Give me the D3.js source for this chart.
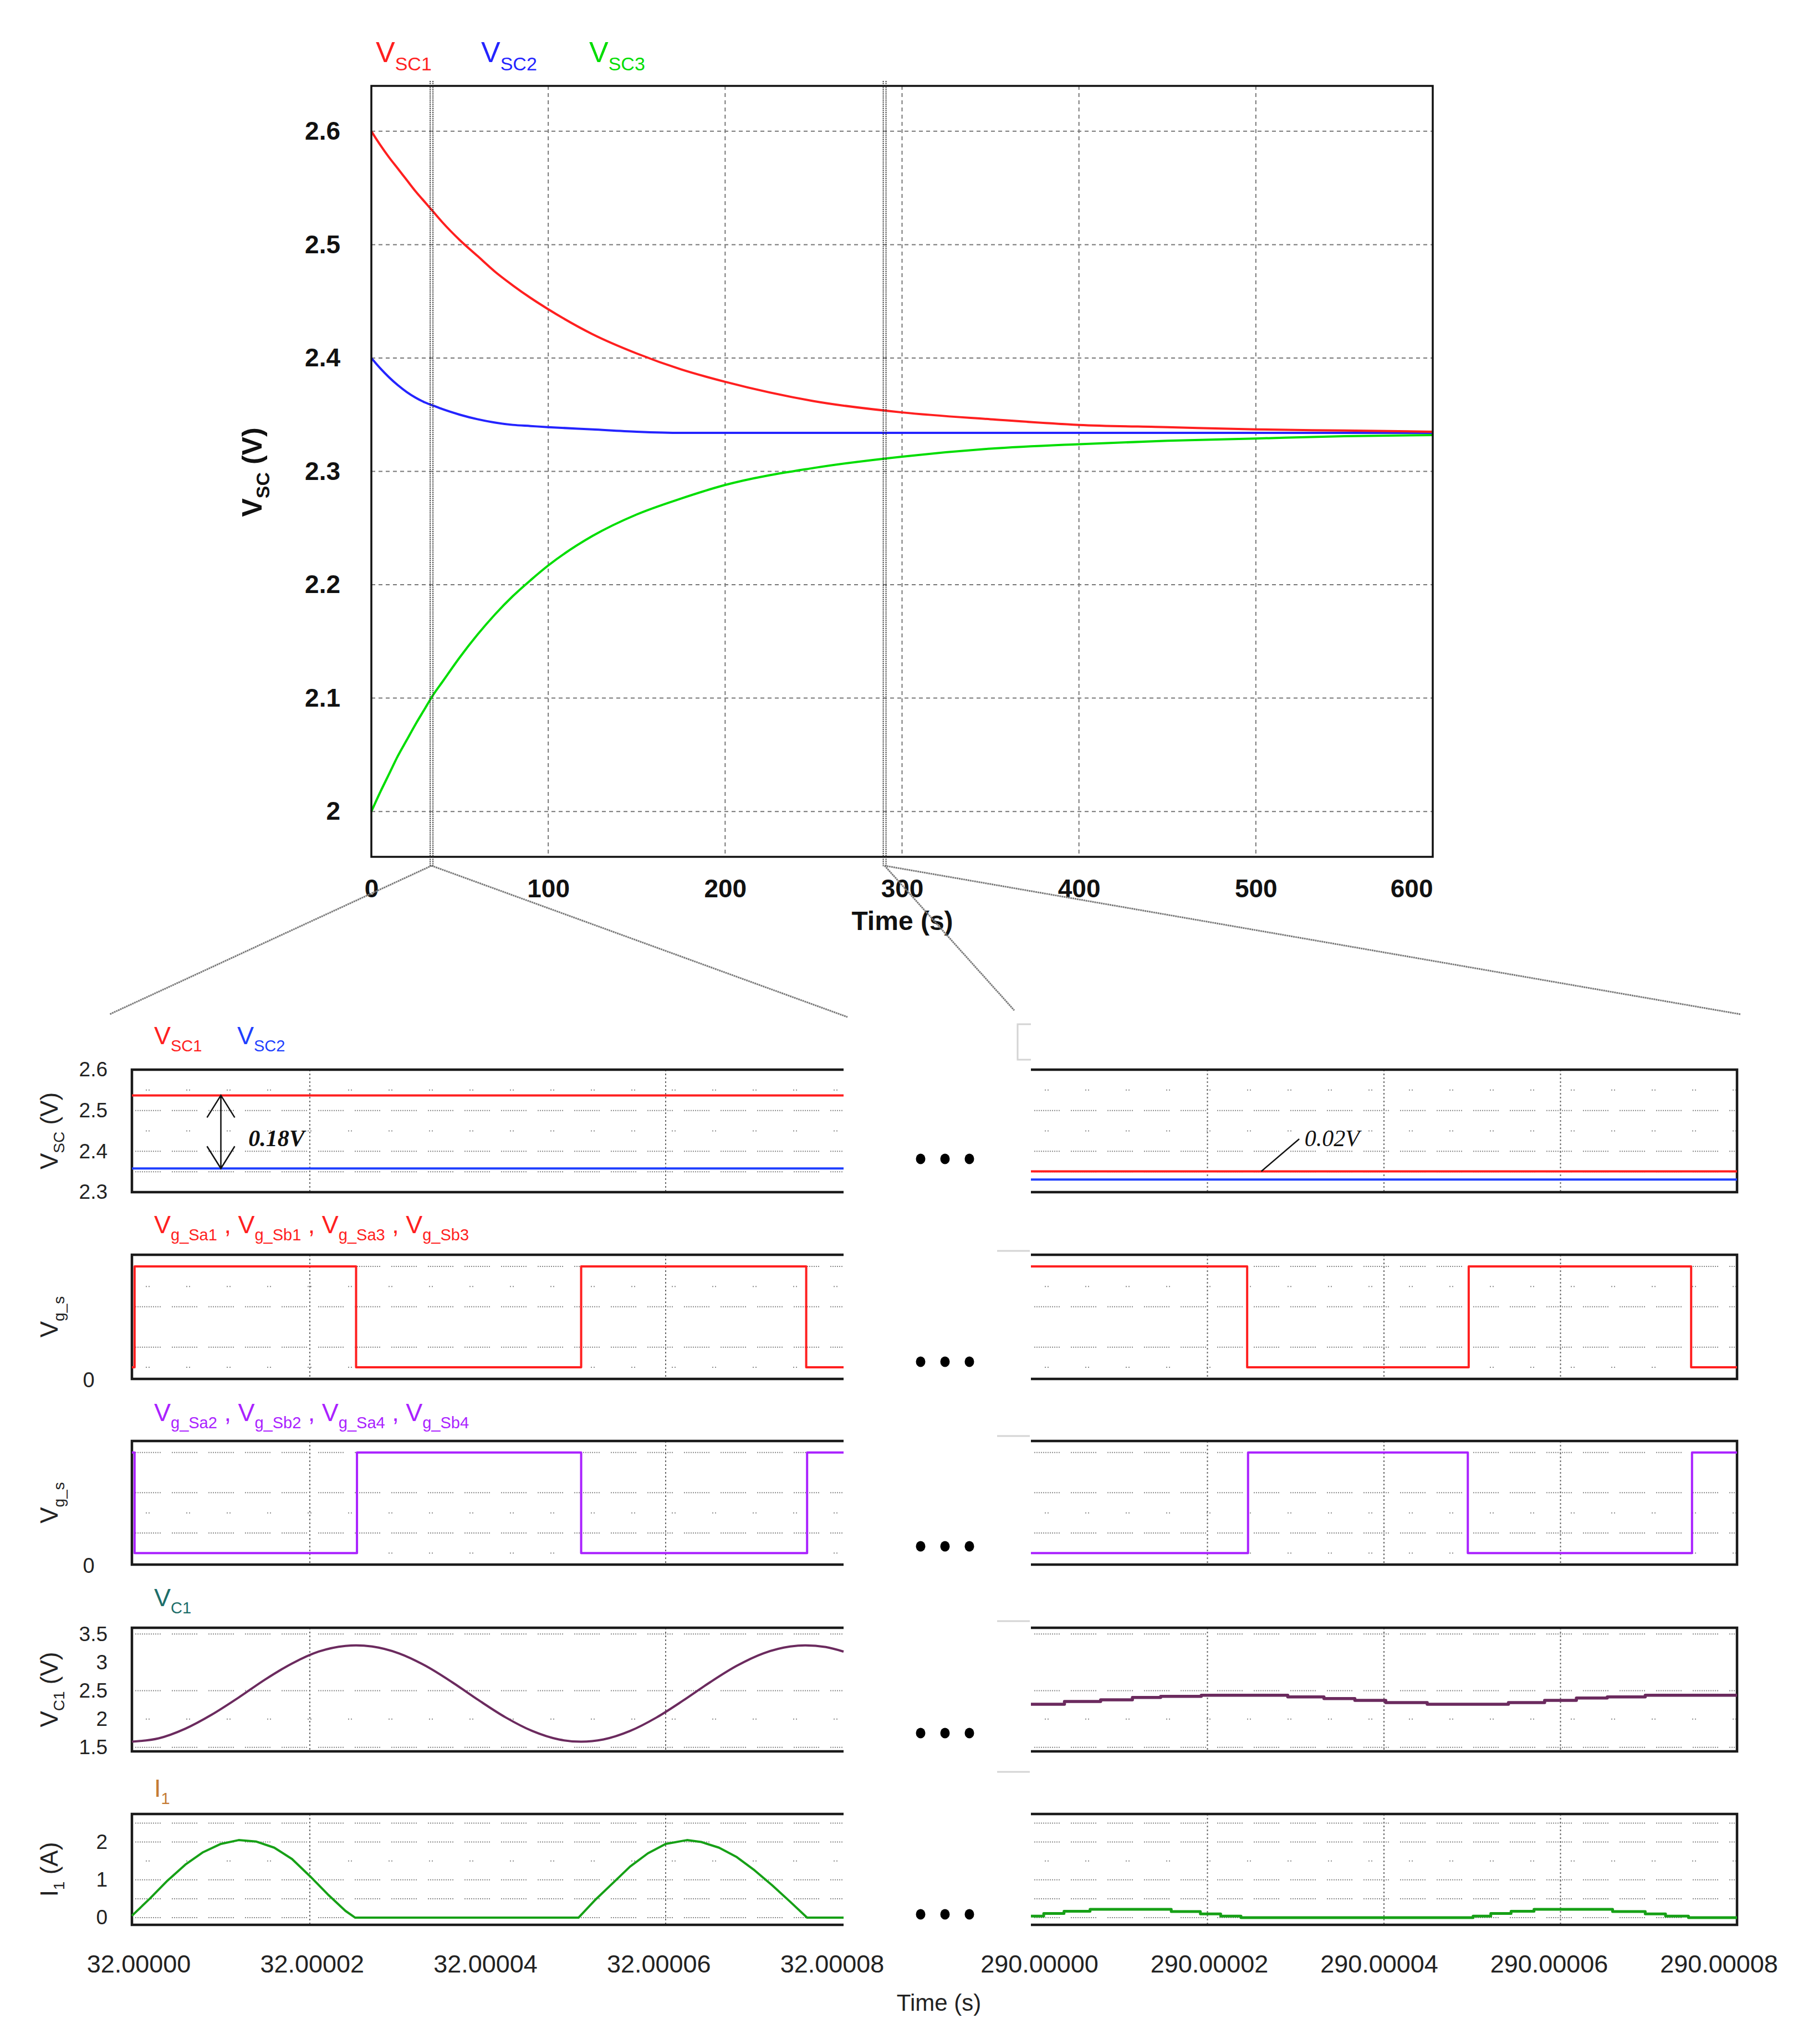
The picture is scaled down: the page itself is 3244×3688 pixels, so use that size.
<!DOCTYPE html>
<html>
<head>
<meta charset="utf-8">
<script src="https://cdn.jsdelivr.net/npm/d3@7"></script>
<style>
  body { margin: 0; background: #fff; }
  text { font-family: "Liberation Sans", Arial, sans-serif; }
</style>
</head>
<body>
<div id="chart"></div>
<script>
// ---- overview: supercapacitor voltages over 600 s
var overviewTime = [0, 5, 10, 15, 20, 25, 30, 35, 40, 50, 60, 70, 80, 90, 100, 125, 150, 175, 200, 250, 300, 350, 400, 450, 500, 550, 600];
var vsc1 = [2.600, 2.588, 2.577, 2.567, 2.557, 2.547, 2.538, 2.529, 2.520, 2.504, 2.490, 2.476, 2.464, 2.453, 2.443, 2.421, 2.404, 2.390, 2.379, 2.362, 2.352, 2.346, 2.341, 2.339, 2.337, 2.336, 2.335];
var vsc2 = [2.400, 2.391, 2.383, 2.376, 2.370, 2.365, 2.361, 2.358, 2.355, 2.350, 2.346, 2.343, 2.341, 2.340, 2.339, 2.337, 2.335, 2.334, 2.334, 2.334, 2.334, 2.334, 2.334, 2.334, 2.334, 2.334, 2.334];
var vsc3 = [2.000, 2.017, 2.033, 2.049, 2.063, 2.077, 2.090, 2.103, 2.114, 2.136, 2.156, 2.174, 2.190, 2.204, 2.217, 2.243, 2.262, 2.276, 2.288, 2.303, 2.313, 2.320, 2.324, 2.327, 2.329, 2.331, 2.332];
var overviewNames = [["V", "SC1"], ["V", "SC2"], ["V", "SC3"]];
var overviewTicksX = [0, 100, 200, 300, 400, 500, 600];
var overviewTicksY = [2, 2.1, 2.2, 2.3, 2.4, 2.5, 2.6];

// ---- zoomed windows (times in microseconds after the window start)
var zoomStarts = [32, 290];
var zoomTicks = [0, 20, 40, 60, 80];
var zoomTickLabels = [
  ["32.00000", "32.00002", "32.00004", "32.00006", "32.00008"],
  ["290.00000", "290.00002", "290.00004", "290.00006", "290.00008"]
];
var vscLevels = [[2.537, 2.358], [2.351, 2.331]];
var gateATimes = [[0, 0.3, 25.2, 50.5, 75.8], [0, 24.5, 49.6, 74.8]];
var gateALevels = [[0, 1, 0, 1, 0], [1, 0, 1, 0]];
var gateBTimes = [[0, 0.3, 25.3, 50.5, 75.9], [0, 24.6, 49.5, 74.9]];
var gateBLevels = [[1, 0, 1, 0, 1], [0, 1, 0, 1]];
var vc1Times = [
  [0, 3, 6, 9, 12, 15, 18, 21, 24, 25.2, 27, 30, 33, 36, 39, 42, 45, 48, 50.5, 53, 56, 59, 62, 65, 68, 71, 74, 75.7, 78, 80],
  [0, 3.8, 7.9, 11.5, 14.7, 19.3, 29.1, 33.2, 36.7, 40.2, 44.9, 54.1, 58.2, 61.8, 65.3, 69.6, 80]
];
var vc1Values = [
  [1.60, 1.66, 1.83, 2.08, 2.38, 2.70, 2.98, 3.19, 3.29, 3.30, 3.28, 3.16, 2.94, 2.65, 2.33, 2.03, 1.79, 1.64, 1.60, 1.64, 1.79, 2.03, 2.33, 2.65, 2.94, 3.16, 3.28, 3.30, 3.27, 3.19],
  [2.26, 2.31, 2.34, 2.38, 2.40, 2.42, 2.39, 2.36, 2.33, 2.29, 2.26, 2.29, 2.33, 2.37, 2.39, 2.42, 2.42]
];
var i1Times = [
  [0, 2, 4, 6, 8, 10, 12, 14, 16, 18, 20, 22, 24, 25.1, 50.2, 52, 54, 56, 58, 60, 62.4, 64, 66, 68, 70, 72, 74, 75.9, 80],
  [0, 1.45, 3.75, 6.7, 15.9, 19.2, 21.5, 23.8, 50.1, 52.1, 54.4, 57.0, 65.9, 69.6, 71.9, 74.5, 80]
];
var i1Values = [
  [0.05, 0.5, 0.98, 1.4, 1.73, 1.95, 2.05, 2.01, 1.85, 1.55, 1.1, 0.62, 0.18, 0, 0, 0.45, 0.9, 1.35, 1.7, 1.95, 2.05, 2.0, 1.85, 1.6, 1.25, 0.85, 0.42, 0, 0],
  [0.04, 0.11, 0.17, 0.22, 0.16, 0.10, 0.04, 0, 0.04, 0.11, 0.17, 0.22, 0.16, 0.10, 0.04, 0, 0]
];
var vscTicks = [2.3, 2.4, 2.5, 2.6];
var vc1Ticks = [1.5, 2, 2.5, 3, 3.5];
var i1Ticks = [0, 1, 2];

var width = 3244, height = 3688;
var svg = d3.select("#chart").append("svg").attr("width", width).attr("height", height);

function richText(parent, xPos, yPos, parts, size, subSize, color, weight) {
  var t = parent.append("text").attr("x", xPos).attr("y", yPos).attr("fill", color)
    .style("font-size", size + "px").style("font-weight", weight || "normal");
  var shift = 0;
  parts.forEach(function(p) {
    var main = typeof p === "string" ? p : p[0];
    t.append("tspan").attr("dy", -shift).text(main);
    shift = 0;
    if (typeof p !== "string") {
      shift = Math.round(size * 0.28);
      t.append("tspan").attr("dy", shift).style("font-size", subSize + "px").text(p[1]);
    }
  });
  return t;
}

// ================= overview chart =================
var ov = {left: 670, right: 2585, top: 155, bottom: 1546};
var x = d3.scaleLinear().domain([0, 600]).range([ov.left, ov.right]);
var y = d3.scaleLinear().domain([1.96, 2.64]).range([ov.bottom, ov.top]);

var grid = svg.append("g").attr("stroke", "#777").attr("stroke-width", 2).attr("stroke-dasharray", "7,6");
grid.selectAll(".gv").data(overviewTicksX.slice(1, -1)).enter().append("line").attr("class", "gv")
  .attr("x1", function(d) { return x(d); }).attr("x2", function(d) { return x(d); })
  .attr("y1", ov.top).attr("y2", ov.bottom);
grid.selectAll(".gh").data(overviewTicksY).enter().append("line").attr("class", "gh")
  .attr("x1", ov.left).attr("x2", ov.right)
  .attr("y1", function(d) { return y(d); }).attr("y2", function(d) { return y(d); });

var ovLine = d3.line()
  .x(function(d, i) { return x(overviewTime[i]); })
  .y(function(d) { return y(d); })
  .curve(d3.curveMonotoneX);
var ovColors = ["#ff1f1f", "#2424ff", "#00dd00"];
[[vsc2, 1], [vsc3, 2], [vsc1, 0]].forEach(function(s) {
  svg.append("path").attr("d", ovLine(s[0])).attr("fill", "none")
    .attr("stroke", ovColors[s[1]]).attr("stroke-width", 4);
});

svg.append("rect").attr("x", ov.left).attr("y", ov.top)
  .attr("width", ov.right - ov.left).attr("height", ov.bottom - ov.top)
  .attr("fill", "none").attr("stroke", "#111").attr("stroke-width", 3.5);

svg.append("g").attr("transform", "translate(" + ov.left + ",0)")
  .call(d3.axisLeft(y).tickValues(overviewTicksY).tickSize(0).tickPadding(56).tickFormat(function(d) { return d; }))
  .call(function(g) { g.select(".domain").remove(); })
  .selectAll("text").style("font-size", "46px").style("font-weight", "bold").attr("fill", "#111");

var xAxisG = svg.append("g").attr("transform", "translate(0," + ov.bottom + ")")
  .call(d3.axisBottom(x).tickValues(overviewTicksX).tickSize(0).tickPadding(40))
  .call(function(g) { g.select(".domain").remove(); });
xAxisG.selectAll("text").style("font-size", "46px").style("font-weight", "bold").attr("fill", "#111");
xAxisG.selectAll(".tick:last-of-type text").attr("text-anchor", "end");

richText(svg, 1628, 1678, ["Time (s)"], 48, 48, "#111", "bold").attr("text-anchor", "middle");
richText(svg, 472, 852, [["V", "SC"], " (V)"], 50, 34, "#111", "bold")
  .attr("text-anchor", "middle").attr("transform", "rotate(-90,472,852)");

[678, 868, 1063].forEach(function(lx, i) {
  richText(svg, lx, 112, [overviewNames[i]], 52, 34, ovColors[i]);
});

// ================= zoomed panels =================
var xs = [
  d3.scaleLinear().domain([0, 80]).range([238, 1522]),
  d3.scaleLinear().domain([0, 80]).range([1860, 3134])
];
var vGrid = [[20, 60], [20, 40, 60]];
var rows = [
  {top: 1930, bottom: 2151, domain: [2.3, 2.6], dense: [2.35, 2.4, 2.5], sparse: [2.45, 2.55], dotsY: 2091, stubY: null},
  {top: 2264, bottom: 2488, domain: [-0.115, 1.115], dense: [0.2, 0.6, 1.0], sparse: [0, 0.8], dotsY: 2457, stubY: 2257},
  {top: 2600, bottom: 2823, domain: [-0.115, 1.115], dense: [0.2, 0.6, 1.0], sparse: [0, 0.4], dotsY: 2790, stubY: 2591},
  {top: 2937, bottom: 3160, domain: [1.43, 3.61], dense: [1.5, 2.5, 3.5], sparse: [2.0], dotsY: 3127, stubY: 2925},
  {top: 3273, bottom: 3473, domain: [-0.19, 2.74], dense: [0, 0.5, 1, 2, 2.5], sparse: [1.5], dotsY: 3454, stubY: 3197}
];
rows.forEach(function(r) { r.y = d3.scaleLinear().domain(r.domain).range([r.bottom, r.top]); });

var denseDash = d3.range(11).map(function() { return "2,2"; }).join(",") + ",2,20";
var sparseDash = "2,3,2,66";

rows.forEach(function(r) {
  xs.forEach(function(sx, s) {
    var g = svg.append("g");
    var x0 = sx.range()[0], x1 = sx.range()[1];
    g.selectAll(".hd").data(r.dense).enter().append("line").attr("class", "hd")
      .attr("x1", x0 + 6).attr("x2", x1)
      .attr("y1", function(d) { return r.y(d); }).attr("y2", function(d) { return r.y(d); })
      .attr("stroke", "#8c8c8c").attr("stroke-width", 2).attr("stroke-dasharray", denseDash);
    g.selectAll(".hs").data(r.sparse).enter().append("line").attr("class", "hs")
      .attr("x1", x0 + 25).attr("x2", x1)
      .attr("y1", function(d) { return r.y(d); }).attr("y2", function(d) { return r.y(d); })
      .attr("stroke", "#8c8c8c").attr("stroke-width", 2).attr("stroke-dasharray", sparseDash);
    g.selectAll(".vg").data(vGrid[s]).enter().append("line").attr("class", "vg")
      .attr("x1", function(d) { return sx(d); }).attr("x2", function(d) { return sx(d); })
      .attr("y1", r.top).attr("y2", r.bottom)
      .attr("stroke", "#666").attr("stroke-width", 2).attr("stroke-dasharray", "3,4");
    var fr = s === 0
      ? "M" + x1 + "," + r.top + "H" + x0 + "V" + r.bottom + "H" + x1
      : "M" + x0 + "," + r.top + "H" + x1 + "V" + r.bottom + "H" + x0;
    g.append("path").attr("d", fr).attr("fill", "none").attr("stroke", "#1a1a1a").attr("stroke-width", 4.5);
  });
  // ellipsis between windows
  svg.selectAll(null).data([1661, 1705, 1749]).enter().append("ellipse")
    .attr("cx", function(d) { return d; }).attr("cy", r.dotsY).attr("rx", 8.5).attr("ry", 9.5).attr("fill", "#000");
  if (r.stubY !== null) {
    svg.append("line").attr("x1", 1799).attr("x2", 1858).attr("y1", r.stubY).attr("y2", r.stubY)
      .attr("stroke", "#d4d4d4").attr("stroke-width", 3);
  }
});
svg.append("path").attr("d", "M1860,1848H1836V1912H1860").attr("fill", "none")
  .attr("stroke", "#d4d4d4").attr("stroke-width", 3);

function drawSeries(row, s, times, values, color, curve, w) {
  var pts = times.map(function(t, i) { return [t, values[i]]; });
  if (pts[pts.length - 1][0] < 80) pts.push([80, pts[pts.length - 1][1]]);
  var ln = d3.line()
    .x(function(d) { return xs[s](d[0]); })
    .y(function(d) { return rows[row].y(d[1]); })
    .curve(curve);
  svg.append("path").attr("d", ln(pts)).attr("fill", "none")
    .attr("stroke", color).attr("stroke-width", w).attr("stroke-linejoin", "round");
}

var cRed = "#ff2020", cBlue = "#1f3fff", cPurple = "#aa22ff", cVc = "#6b2a5e", cI = "#16a016";
[0, 1].forEach(function(s) {
  drawSeries(0, s, [0], [vscLevels[s][0]], cRed, d3.curveLinear, 4);
  drawSeries(0, s, [0], [vscLevels[s][1]], cBlue, d3.curveLinear, 4);
  drawSeries(1, s, gateATimes[s], gateALevels[s], cRed, d3.curveStepAfter, 4);
  drawSeries(2, s, gateBTimes[s], gateBLevels[s], cPurple, d3.curveStepAfter, 4);
  drawSeries(3, s, vc1Times[s], vc1Values[s], cVc, s === 0 ? d3.curveMonotoneX : d3.curveStepAfter, s === 0 ? 4 : 5.5);
  drawSeries(4, s, i1Times[s], i1Values[s], cI, s === 0 ? d3.curveLinear : d3.curveStepAfter, s === 0 ? 4 : 5);
});

// left value axes
function leftAxis(row, ticks) {
  svg.append("g").attr("transform", "translate(" + xs[0].range()[0] + ",0)")
    .call(d3.axisLeft(rows[row].y).tickValues(ticks).tickSize(0).tickPadding(44).tickFormat(function(d) { return d; }))
    .call(function(g) { g.select(".domain").remove(); })
    .selectAll("text").style("font-size", "37px").attr("fill", "#222");
}
leftAxis(0, vscTicks);
leftAxis(3, vc1Ticks);
leftAxis(4, i1Ticks);
[1, 2].forEach(function(ri) {
  svg.append("text").attr("x", 160).attr("y", rows[ri].bottom + 15).attr("text-anchor", "middle")
    .style("font-size", "38px").attr("fill", "#222").text("0");
});

// time axes (labels sit slightly inside the window ends)
var labelShift = [[12, -21], [15, -33]];
[0, 1].forEach(function(s) {
  svg.append("g").attr("transform", "translate(0," + rows[4].bottom + ")")
    .call(d3.axisBottom(xs[s]).tickValues(zoomTicks).tickSize(0).tickPadding(54)
      .tickFormat(function(d, i) { return zoomTickLabels[s][i]; }))
    .call(function(g) { g.select(".domain").remove(); })
    .selectAll("text").style("font-size", "45px").attr("fill", "#222")
    .attr("dx", function(d, i) { return labelShift[s][0] + (labelShift[s][1] - labelShift[s][0]) * i / 4; });
});
richText(svg, 1694, 3628, ["Time (s)"], 42, 42, "#222").attr("text-anchor", "middle");

// rotated value labels
var yLabels = [
  [0, [["V", "SC"], " (V)"]],
  [1, [["V", "g_s"]]],
  [2, [["V", "g_s"]]],
  [3, [["V", "C1"], " (V)"]],
  [4, [["I", "1"], " (A)"]]
];
yLabels.forEach(function(l) {
  var r = rows[l[0]], cy = (r.top + r.bottom) / 2;
  richText(svg, 104, cy, l[1], 44, 28, "#222")
    .attr("text-anchor", "middle").attr("transform", "rotate(-90,104," + cy + ")");
});

// panel legends
richText(svg, 278, 1884, [["V", "SC1"]], 45, 29, cRed);
richText(svg, 428, 1884, [["V", "SC2"]], 45, 29, cBlue);
richText(svg, 278, 2225, [["V", "g_Sa1"], " , ", ["V", "g_Sb1"], " , ", ["V", "g_Sa3"], " , ", ["V", "g_Sb3"]], 45, 29, cRed);
richText(svg, 278, 2564, [["V", "g_Sa2"], " , ", ["V", "g_Sb2"], " , ", ["V", "g_Sa4"], " , ", ["V", "g_Sb4"]], 45, 29, cPurple);
richText(svg, 278, 2898, [["V", "C1"]], 45, 29, "#1d6e6a");
richText(svg, 278, 3242, [["I", "1"]], 45, 29, "#c47a35");

// annotations
var r0 = rows[0];
var ax = xs[0](10), yTop = r0.y(vscLevels[0][0]), yBot = r0.y(vscLevels[0][1]);
svg.append("path")
  .attr("d", "M" + ax + "," + yTop + "V" + yBot +
    "M" + (ax - 25) + "," + (yTop + 40) + "L" + ax + "," + yTop + "L" + (ax + 25) + "," + (yTop + 40) +
    "M" + (ax - 25) + "," + (yBot - 40) + "L" + ax + "," + yBot + "L" + (ax + 25) + "," + (yBot - 40))
  .attr("fill", "none").attr("stroke", "#111").attr("stroke-width", 2.5);
svg.append("text").attr("x", xs[0](13.1)).attr("y", 2068)
  .style("font-family", "'Liberation Serif', 'Times New Roman', serif").style("font-style", "italic")
  .style("font-weight", "bold").style("font-size", "42px").attr("fill", "#111").text("0.18V");
svg.append("line").attr("x1", xs[1](26.1)).attr("y1", r0.y(vscLevels[1][0]))
  .attr("x2", xs[1](30.4)).attr("y2", 2055).attr("stroke", "#111").attr("stroke-width", 2.5);
svg.append("text").attr("x", xs[1](31)).attr("y", 2068)
  .style("font-family", "'Liberation Serif', 'Times New Roman', serif").style("font-style", "italic")
  .style("font-size", "42px").attr("fill", "#111").text("0.02V");

// zoom markers and connectors
zoomStarts.forEach(function(t0, s) {
  var mx = x(t0) + (s === 0 ? 4 : -2);
  [0, 5].forEach(function(off) {
    svg.append("line").attr("x1", mx + off).attr("x2", mx + off).attr("y1", 146).attr("y2", 1564)
      .attr("stroke", "#333").attr("stroke-width", 2).attr("stroke-dasharray", "2,1.5");
  });
  var rg = xs[s].range();
  var ends = s === 0 ? [[rg[0] - 40, 1830], [rg[1] + 7, 1835]] : [[rg[0] - 30, 1823], [rg[1] + 6, 1830]];
  ends.forEach(function(e) {
    svg.append("line").attr("x1", mx + 2.5).attr("y1", 1562).attr("x2", e[0]).attr("y2", e[1])
      .attr("stroke", "#7a7a7a").attr("stroke-width", 3).attr("stroke-dasharray", "3,1");
  });
});
</script>
</body>
</html>
